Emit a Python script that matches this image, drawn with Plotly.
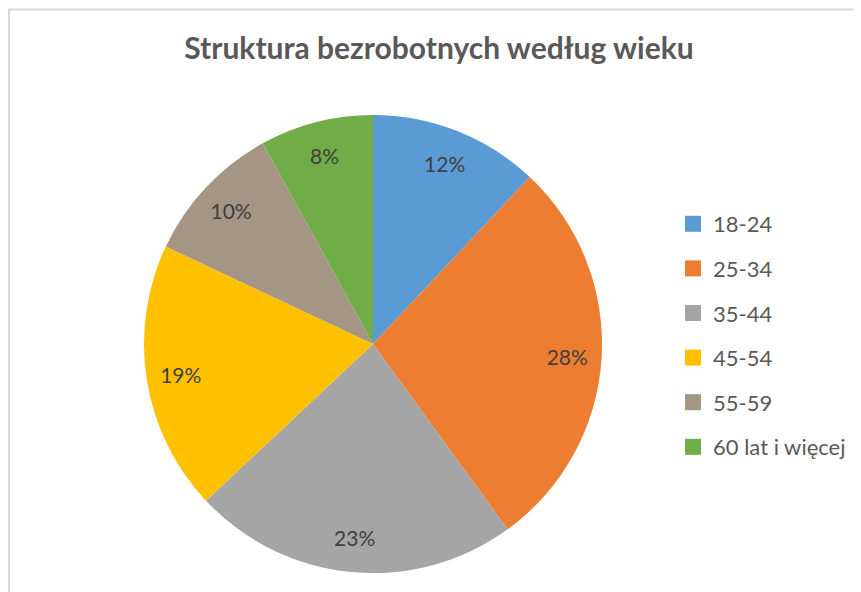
import plotly.graph_objects as go

# Struktura bezrobotnych według wieku
labels = ['18-24', '25-34', '35-44', '45-54', '55-59', '60 lat i więcej']
values = [12, 28, 23, 19, 10, 8]
colors = ['#5B9BD5', '#ED7D31', '#A5A5A5', '#FFC000', '#A59584', '#70AD47']

W, H = 861, 592
cx, cy, r = 365, 336, 229  # pie centre / radius in px (page adds 8px body margin)
pie_domain = dict(x=[(cx - r) / W, (cx + r) / W],
                  y=[(H - cy - r) / H, (H - cy + r) / H])

fig = go.Figure()

# coloured slices
fig.add_trace(go.Pie(
    labels=labels,
    values=values,
    sort=False,
    direction='clockwise',
    rotation=0,
    marker=dict(colors=colors, line=dict(width=0)),
    textinfo='none',
    domain=pie_domain,
    showlegend=False,
    hoverinfo='label+percent',
))

# transparent ring on top, only to push the % labels towards the rim (like Excel)
fig.add_trace(go.Pie(
    labels=labels,
    values=values,
    sort=False,
    direction='clockwise',
    rotation=0,
    hole=0.7,
    marker=dict(colors=['rgba(0,0,0,0)'] * len(values), line=dict(width=0)),
    texttemplate='%{percent:.0%}',
    textposition='inside',
    insidetextorientation='horizontal',
    textfont=dict(family='Lato', size=21, color='#404040'),
    domain=pie_domain,
    showlegend=False,
    hoverinfo='skip',
))

# legend entries (one per slice, so the gap between them can be set)
for lab, col in zip(labels, colors):
    fig.add_trace(go.Scatter(
        x=[None], y=[None],
        mode='markers',
        marker=dict(symbol='square', size=16, color=col),
        name=lab,
        legendgroup=lab,
    ))

fig.update_layout(
    width=W,
    height=H,
    margin=dict(l=0, r=0, t=0, b=0),
    paper_bgcolor='white',
    plot_bgcolor='white',
    title=dict(
        text='<b>Struktura bezrobotnych według wieku</b>',
        x=431 / W, xanchor='center',
        y=1 - 40 / H, yanchor='middle',
        font=dict(family='Lato', size=30, color='#595959'),
    ),
    legend=dict(
        x=665 / W, xanchor='left',
        y=1 - 195 / H, yanchor='top',
        font=dict(family='Lato', size=22, color='#595959'),
        tracegroupgap=13,
        bgcolor='rgba(0,0,0,0)',
    ),
    xaxis=dict(visible=False),
    yaxis=dict(visible=False),
    shapes=[dict(
        type='rect', xref='paper', yref='paper',
        x0=1 / W, x1=1.02, y0=-0.05, y1=1 - 1.5 / H,
        line=dict(color='#D9D9D9', width=2),
        layer='below',
    )],
)

fig.write_html("out.html")
